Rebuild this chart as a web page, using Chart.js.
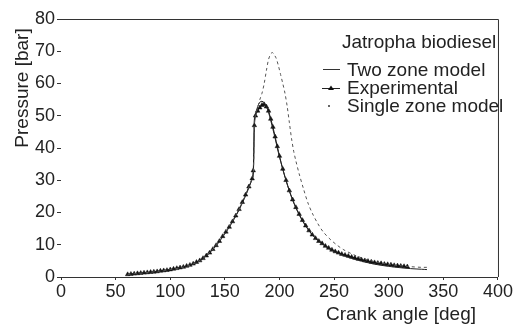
<!DOCTYPE html>
<html lang="en">
<head>
    <meta charset="UTF-8">
    <title>Jatropha biodiesel - pressure vs crank angle</title>
    <script src="https://cdn.jsdelivr.net/npm/chart.js@4.4.0/dist/chart.umd.min.js"></script>
    <style>
        html, body { margin: 0; padding: 0; background: #fff; }
        #wrap { position: relative; width: 514px; height: 324px; }
        #legend {
            position: absolute; left: 322px; top: 33px;
            font-family: "Liberation Sans", Arial, sans-serif; font-size: 19px; color: #222;
            line-height: 18px;
        }
        #legend .title { margin-left: 20px; margin-bottom: 10px; height: 18px; }
        #legend .row { display: flex; align-items: center; height: 18px; }
        #legend svg { width: 25px; height: 18px; flex: none; }
    </style>
</head>
<body>
<div id="wrap">
    <canvas id="chart" width="514" height="324"></canvas>
    <div id="legend">
        <div class="title">Jatropha biodiesel</div>
        <div class="row"><svg><line x1="1" y1="8.5" x2="18" y2="8.5" stroke="#333" stroke-width="1"/></svg>Two zone model</div>
        <div class="row"><svg><line x1="0" y1="9.5" x2="18" y2="9.5" stroke="#222" stroke-width="1"/><polygon points="9,6.5 12,11 6,11" fill="#111"/></svg>Experimental</div>
        <div class="row"><svg><circle cx="7" cy="9" r="1" fill="#333"/></svg>Single zone model</div>
    </div>
</div>

<script>
    // experimental
    const expAngle = [61, 64, 67, 70, 73, 76, 79, 82, 85, 88, 91, 94, 97, 100, 103, 106, 109, 112, 115, 118,
        121, 124, 127, 130, 133, 136, 139, 142, 145, 148, 151, 154, 157, 160, 163, 166, 169, 172, 175, 176,
        177, 178, 180, 182, 184, 186, 188, 190, 192, 194, 196, 198, 200, 203, 206, 209, 212, 215, 218, 221,
        224, 227, 230, 233, 236, 239, 242, 245, 248, 251, 254, 257, 260, 263, 266, 269, 272, 275, 278, 281,
        284, 287, 290, 293, 296, 299, 302, 305, 308, 311, 314, 317];
    const expPressure = [0.8, 0.9, 1.0, 1.1, 1.2, 1.3, 1.4, 1.5, 1.6, 1.7, 1.9, 2.0, 2.1, 2.3, 2.5, 2.7, 2.9, 3.1, 3.4, 3.7,
        4.1, 4.6, 5.1, 5.8, 6.6, 7.5, 8.6, 9.8, 11.1, 12.6, 14.0, 15.5, 17.2, 19.0, 21.0, 23.2, 25.5, 28.0, 30.5, 33.0,
        47.0, 50.0, 51.5, 52.5, 53.3, 53.5, 52.8, 51.5, 49.0, 46.5, 43.5, 40.5, 37.5, 33.5, 30.0, 26.8, 24.0, 21.6, 19.5, 17.6,
        15.9, 14.4, 13.1, 12.0, 11.1, 10.4, 9.6, 9.0, 8.4, 7.9, 7.5, 7.1, 6.8, 6.5, 6.2, 5.9, 5.6, 5.4, 5.1, 4.9,
        4.7, 4.5, 4.3, 4.2, 4.0, 3.9, 3.8, 3.6, 3.5, 3.4, 3.3, 3.2];

    const twoZoneAngle = [61, 70, 80, 90, 100, 110, 120, 130, 140, 150, 160, 165, 170, 174, 176, 177, 178, 180, 182, 184,
        186, 188, 190, 192, 194, 196, 198, 200, 205, 210, 215, 220, 225, 230, 240, 250, 260, 270, 280, 290,
        300, 310, 320, 330, 335];
    const twoZonePressure = [0.8, 1.1, 1.4, 1.8, 2.3, 2.9, 3.9, 5.7, 8.9, 13.4, 18.9, 22.2, 26.0, 29.5, 31.5, 49.0, 50.5, 52.8, 54.2, 54.5,
        54.0, 52.8, 51.0, 48.5, 45.8, 43.0, 40.0, 37.2, 31.0, 25.7, 21.4, 18.0, 15.3, 13.1, 10.0, 7.9, 6.5, 5.4, 4.5, 3.8,
        3.3, 2.9, 2.6, 2.4, 2.3];

    const singleZoneAngle = [61, 70, 80, 90, 100, 110, 120, 130, 140, 150, 160, 165, 170, 174, 176, 177, 178, 180, 182, 184,
        186, 188, 190, 192, 193.5, 195, 197, 199, 201, 203, 205, 207, 209, 211, 213, 215, 218, 222, 226, 230,
        235, 240, 247, 253, 259, 270, 280, 290, 300, 310, 320, 330, 335];
    const singleZonePressure = [0.8, 1.1, 1.4, 1.8, 2.3, 2.9, 3.9, 5.8, 9.0, 13.6, 19.1, 22.4, 26.2, 29.7, 31.7, 48.5, 50.0, 52.5, 55.0, 57.0,
        60.0, 64.0, 67.5, 69.2, 69.6, 69.0, 67.8, 65.5, 62.8, 60.0, 57.0, 53.0, 48.0, 43.0, 39.0, 36.0, 32.0, 27.3, 23.0, 19.8,
        16.6, 14.0, 11.5, 9.8, 8.4, 6.6, 5.4, 4.5, 3.9, 3.5, 3.2, 3.0, 3.0];

    const xTicks = [0, 50, 100, 150, 200, 250, 300, 350, 400];
    const yTicks = [0, 10, 20, 30, 40, 50, 60, 70, 80];
    const xTitle = 'Crank angle [deg]';
    const yTitle = 'Pressure [bar]';

    const toPoints = (xs, ys) => xs.map((x, i) => ({ x: x, y: ys[i] }));
    const family = '"Liberation Sans", Arial, sans-serif';
    const tickFont = { family: family, size: 18 };

    // frame (top + right, no left line) and the two axis titles
    const framePlugin = {
        id: 'frame',
        afterDraw(chart) {
            const a = chart.chartArea, ctx = chart.ctx;
            ctx.save();
            ctx.strokeStyle = '#333';
            ctx.lineWidth = 1;
            ctx.beginPath();
            ctx.moveTo(a.left, a.top + 0.5);
            ctx.lineTo(a.right + 0.5, a.top + 0.5);
            ctx.lineTo(a.right + 0.5, a.bottom);
            ctx.stroke();

            ctx.fillStyle = '#222';
            ctx.font = '19px ' + family;
            ctx.textAlign = 'center';
            ctx.textBaseline = 'middle';
            ctx.fillText(xTitle, 401, 315);
            ctx.translate(23, 88);
            ctx.rotate(-Math.PI / 2);
            ctx.fillText(yTitle, 0, 0);
            ctx.restore();
        }
    };

    new Chart(document.getElementById('chart'), {
        type: 'line',
        data: {
            datasets: [
                {
                    label: 'Single zone model',
                    data: toPoints(singleZoneAngle, singleZonePressure),
                    borderColor: '#555', borderWidth: 1, borderDash: [3, 3],
                    pointRadius: 0, tension: 0.3
                },
                {
                    label: 'Two zone model',
                    data: toPoints(twoZoneAngle, twoZonePressure),
                    borderColor: '#222', borderWidth: 1,
                    pointRadius: 0, tension: 0.3
                },
                {
                    label: 'Experimental',
                    data: toPoints(expAngle, expPressure),
                    borderColor: '#111', borderWidth: 1,
                    pointStyle: 'triangle', pointRadius: 2.6,
                    pointBackgroundColor: '#111', pointBorderColor: '#111', pointBorderWidth: 0.5,
                    tension: 0.2
                }
            ]
        },
        options: {
            responsive: false,
            animation: false,
            layout: { padding: { top: 19, right: 12, left: 0, bottom: 0 } },
            plugins: { legend: { display: false }, tooltip: { enabled: false } },
            scales: {
                x: {
                    type: 'linear', min: 0, max: 400,
                    afterBuildTicks: s => { s.ticks = xTicks.map(v => ({ value: v })); },
                    afterFit: s => { s.height = 47; },
                    ticks: { color: '#222', font: tickFont, padding: 1, maxRotation: 0 },
                    grid: { drawOnChartArea: false, tickLength: 3, color: '#333' },
                    border: { color: '#333', width: 1 }
                },
                y: {
                    min: 0, max: 80,
                    afterBuildTicks: s => { s.ticks = yTicks.map(v => ({ value: v })); },
                    afterFit: s => { s.width = 61; },
                    ticks: { color: '#222', font: tickFont, padding: 2 },
                    grid: { drawOnChartArea: false, tickLength: 4, color: '#333' },
                    border: { display: false }
                }
            }
        },
        plugins: [framePlugin]
    });
</script>
</body>
</html>
